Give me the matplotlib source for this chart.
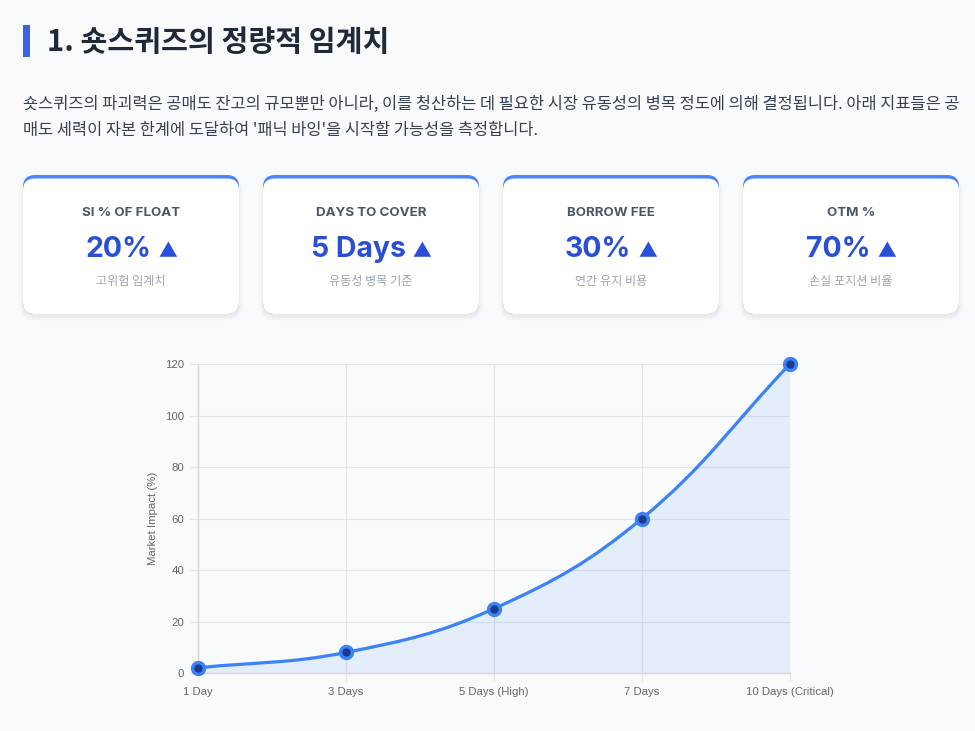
import numpy as np
import matplotlib.pyplot as plt
from matplotlib.patches import FancyBboxPatch, Rectangle, PathPatch
from matplotlib.path import Path

# ---- data ----
labels = ['1 Day', '3 Days', '5 Days (High)', '7 Days', '10 Days (Critical)']
impact = [2, 8, 25, 60, 120]
y_ticks = [0, 20, 40, 60, 80, 100, 120]

card_titles = ['SI % OF FLOAT', 'DAYS TO COVER', 'BORROW FEE', 'OTM %']
card_values = ['20%', '5 Days', '30%', '70%']
card_notes = ['고위험 임계치', '유동성 병목 기준', '연간 유지 비용', '손실 포지션 비율']

title = '1. 숏스퀴즈의 정량적 임계치'
para_lines = [
    '숏스퀴즈의 파괴력은 공매도 잔고의 규모뿐만 아니라, 이를 청산하는 데 필요한 시장 유동성의 병목 정도에 의해 결정됩니다. 아래 지표들은 공',
    "매도 세력이 자본 한계에 도달하여 '패닉 바잉'을 시작할 가능성을 측정합니다.",
]

BG = '#f8fafc'
KR = ['Noto Sans CJK KR', 'DejaVu Sans']
LAT = ['Inter', 'Noto Sans CJK KR', 'DejaVu Sans']
VALUE_BLUE = '#2a4fd6'

W, H = 975, 731
fig = plt.figure(figsize=(W / 100, H / 100), dpi=100)
fig.patch.set_facecolor(BG)

# page layer in pixel coordinates
page = fig.add_axes([0, 0, 1, 1], zorder=0)
page.set_xlim(0, W)
page.set_ylim(H, 0)
page.axis('off')

page.add_patch(Rectangle((23, 25), 7, 32, color='#3b63ea', lw=0))
page.text(47, 42, title, fontsize=21, fontweight='bold', color='#1f2937',
          family=KR, va='center', ha='left')
for i, line in enumerate(para_lines):
    page.text(23, 104 + i * 27, line, fontsize=11.8, color='#374151',
              family=KR, va='center', ha='left')

renderer = fig.canvas.get_renderer()
card_x = [23, 263, 503, 743]
cw, ch, cy, r = 216, 139, 175, 12
for x0, t, v, n in zip(card_x, card_titles, card_values, card_notes):
    # soft shadow
    for k in range(5):
        page.add_patch(FancyBboxPatch((x0 - k, cy + 2 - k * 0.3), cw + 2 * k, ch + 1 + k * 1.2,
                                      boxstyle=f'round,pad=0,rounding_size={r + k}',
                                      fc='#0f172a', ec='none', alpha=0.012))
    page.add_patch(FancyBboxPatch((x0, cy), cw, ch,
                                  boxstyle=f'round,pad=0,rounding_size={r}',
                                  fc='#4f86f7', ec='none'))
    page.add_patch(FancyBboxPatch((x0, cy + 3.5), cw, ch - 3.5,
                                  boxstyle=f'round,pad=0,rounding_size={r}',
                                  fc='white', ec='none'))
    cx = x0 + cw / 2
    page.text(cx, 213, t, fontsize=9.6, fontweight='bold', color='#4b5563',
              family=LAT, ha='center', va='center')
    # value + small triangle, centred as a group
    vt = page.text(0, 257, v, fontsize=20.5, fontweight='bold', color=VALUE_BLUE,
                   family=LAT, ha='left', va='baseline')
    tri = page.text(0, 257, '▲', fontsize=13.5, color=VALUE_BLUE,
                    family=KR, ha='left', va='baseline')
    wv = vt.get_window_extent(renderer).width
    wt = tri.get_window_extent(renderer).width
    gap = 7
    start = cx - (wv + gap + wt) / 2
    vt.set_x(start)
    tri.set_x(start + wv + gap)
    page.text(cx, 281, n, fontsize=8.7, color='#9ca3af',
              family=KR, ha='center', va='center')

# ---- chart ----
left, right, top, bottom = 198, 790, 364, 673
ax = fig.add_axes([left / W, 1 - bottom / H, (right - left) / W, (bottom - top) / H],
                  zorder=1)
ax.set_facecolor('none')
xs = np.arange(len(labels))
ax.set_xlim(0, len(labels) - 1)
ax.set_ylim(0, 120)

# Chart.js style bezier (tension 0.4) computed in pixel space
pts = ax.transData.transform(np.column_stack([xs, impact]))
n = len(pts)
cp_prev, cp_next = [], []
for i in range(n):
    p0 = pts[max(i - 1, 0)]
    p1 = pts[i]
    p2 = pts[min(i + 1, n - 1)]
    d01 = np.hypot(*(p1 - p0))
    d12 = np.hypot(*(p2 - p1))
    s01 = d01 / (d01 + d12)
    s12 = d12 / (d01 + d12)
    cp_prev.append(p1 - 0.4 * s01 * (p2 - p0))
    cp_next.append(p1 + 0.4 * s12 * (p2 - p0))
verts = [pts[0]]
codes = [Path.MOVETO]
for i in range(n - 1):
    verts += [cp_next[i], cp_prev[i + 1], pts[i + 1]]
    codes += [Path.CURVE4] * 3
inv = ax.transData.inverted()
verts_d = inv.transform(np.array(verts))

fill_verts = np.vstack([verts_d, [[xs[-1], 0], [xs[0], 0], [xs[0], impact[0]]]])
fill_codes = codes + [Path.LINETO, Path.LINETO, Path.CLOSEPOLY]
ax.add_patch(PathPatch(Path(fill_verts, fill_codes), fc='#3b82f6', alpha=0.1,
                       ec='none', zorder=2))
ax.add_patch(PathPatch(Path(verts_d, codes), fc='none', ec='#3b82f6', lw=2.3,
                       zorder=3, capstyle='round', joinstyle='round'))
ax.plot(xs, impact, 'o', ms=8.5, mfc='#1e3a8a', mec='#3b82f6', mew=2.5,
        zorder=4, clip_on=False)

ax.set_xticks(xs)
ax.set_xticklabels(labels)
ax.set_yticks(y_ticks)
ax.grid(True, color='#e3e5e8', lw=0.8)
ax.set_axisbelow(True)
for s in ['top', 'right']:
    ax.spines[s].set_visible(False)
for s in ['left', 'bottom']:
    ax.spines[s].set_color('#d3d6da')
    ax.spines[s].set_linewidth(1.0)
ax.tick_params(length=6, color='#e3e5e8', width=0.8, labelsize=8.2,
               labelcolor='#666666', pad=4)
for lab in ax.get_xticklabels() + ax.get_yticklabels():
    lab.set_family(['Liberation Sans', 'DejaVu Sans'])
ax.set_ylabel('Market Impact (%)', fontsize=8.2, color='#666666',
              family=['Liberation Sans', 'DejaVu Sans'], labelpad=5)

fig.savefig('out.png', dpi=100, facecolor=BG)
